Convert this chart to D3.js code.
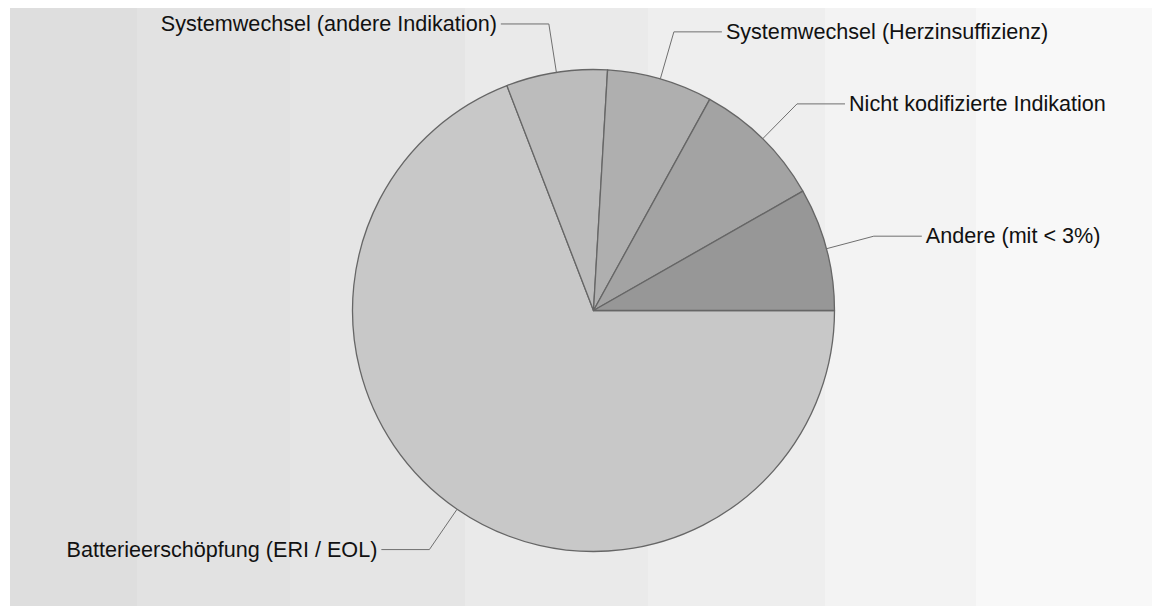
<!DOCTYPE html>
<html>
<head>
<meta charset="utf-8">
<script src="https://cdn.jsdelivr.net/npm/d3@7"></script>
<style>
  html, body { margin: 0; padding: 0; background: #ffffff; }
  svg { display: block; }
  text { font-family: "Liberation Sans", Arial, sans-serif; }
</style>
</head>
<body>
<svg id="chart" width="1152" height="606"></svg>
<script>
// ---- data ----
const categories = [
  "Batterieerschöpfung (ERI / EOL)",
  "Systemwechsel (andere Indikation)",
  "Systemwechsel (Herzinsuffizienz)",
  "Nicht kodifizierte Indikation",
  "Andere (mit < 3%)"
];
const values = [69.15, 6.78, 7.08, 8.74, 8.25];
const sliceColors = ["#c8c8c8", "#bcbcbc", "#afafaf", "#a3a3a3", "#979797"];

// decorative background bands (layout)
const bandEdges = [10, 137, 290, 465, 648, 825, 976, 1152];
const bandColors = ["#dedede", "#e2e2e2", "#e5e5e5", "#eaeaea", "#eeeeee", "#f3f3f3", "#f8f8f8"];

// ---- drawing ----
const svg = d3.select("#chart");
const W = 1152, H = 606;
const topY = 8;

svg.append("g").selectAll("rect")
  .data(bandColors)
  .join("rect")
  .attr("x", (d, i) => bandEdges[i])
  .attr("y", topY)
  .attr("width", (d, i) => bandEdges[i + 1] - bandEdges[i])
  .attr("height", H - topY)
  .attr("fill", d => d);

const cx = 593.5, cy = 310.5, R = 241;
const data = categories.map((c, i) => ({ name: c, value: values[i], color: sliceColors[i] }));

const pie = d3.pie()
  .sort(null)
  .value(d => d.value)
  .startAngle(Math.PI / 2)
  .endAngle(Math.PI / 2 + 2 * Math.PI);

const arcs = pie(data);
const arc = d3.arc().innerRadius(0).outerRadius(R);

const g = svg.append("g").attr("transform", `translate(${cx},${cy})`);

g.selectAll("path.slice")
  .data(arcs)
  .join("path")
  .attr("class", "slice")
  .attr("d", arc)
  .attr("fill", d => d.data.color)
  .attr("stroke", "#666666")
  .attr("stroke-width", 1.3)
  .attr("stroke-linejoin", "round");

// labels with leader lines
const elbowR = R + 49;
const hLen = 48;
const gap = 4;

arcs.forEach(d => {
  const a = (d.startAngle + d.endAngle) / 2; // d3 angle: 0 = north, clockwise
  const sx = Math.sin(a), sy = -Math.cos(a);
  const p0 = [R * sx, R * sy];
  const p1 = [elbowR * sx, elbowR * sy];
  const right = sx >= 0;
  const p2 = [p1[0] + (right ? hLen : -hLen), p1[1]];
  g.append("polyline")
    .attr("points", [p0, p1, p2].map(p => p.join(",")).join(" "))
    .attr("fill", "none")
    .attr("stroke", "#6f6f6f")
    .attr("stroke-width", 1);
  g.append("text")
    .attr("x", p2[0] + (right ? gap : -gap))
    .attr("y", p2[1] + 7)
    .attr("text-anchor", right ? "start" : "end")
    .attr("font-size", 21.6)
    .attr("fill", "#111111")
    .text(d.data.name);
});
</script>
</body>
</html>
